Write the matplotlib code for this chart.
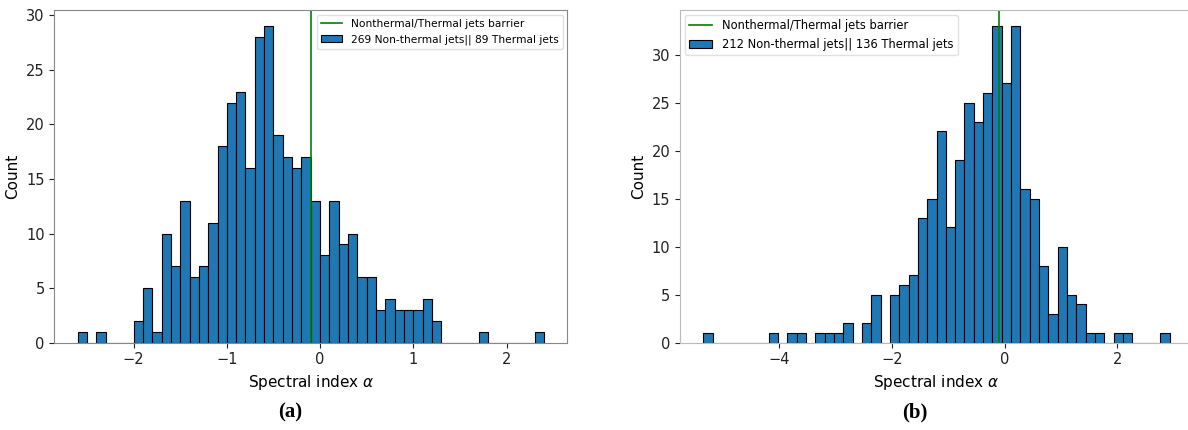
import numpy as np
import matplotlib
matplotlib.use("Agg")
import matplotlib.pyplot as plt

plt.rcParams["mathtext.fontset"] = "dejavusans"

# Panel (a): 50 bins of width 0.1 from -2.6 to 2.4
edges_a_range = (-2.6, 2.4)
counts_a = [1, 0, 1, 0, 0, 0, 2, 5, 1, 10,
            7, 13, 6, 7, 11, 18, 22, 23, 16, 28,
            29, 19, 17, 16, 17, 13, 8, 13, 9, 10,
            6, 6, 3, 4, 3, 3, 3, 4, 2, 0,
            0, 0, 0, 1, 0, 0, 0, 0, 0, 1]
label_a = "269 Non-thermal jets|| 89 Thermal jets"

# Panel (b): 50 bins spanning -5.351 to 2.934
edges_b_range = (-5.351, 2.934)
counts_b = [1, 0, 0, 0, 0, 0, 0, 1, 0, 1,
            1, 0, 1, 1, 1, 2, 0, 2, 5, 0,
            5, 6, 7, 13, 15, 22, 12, 19, 25, 23,
            26, 33, 27, 33, 16, 15, 8, 3, 10, 5,
            4, 1, 1, 0, 1, 1, 0, 0, 0, 1]
label_b = "212 Non-thermal jets|| 136 Thermal jets"

barrier = -0.1
barrier_label = "Nonthermal/Thermal jets barrier"
xlabel = r"Spectral index $\alpha$"
ylabel = "Count"
captions = ["(a)", "(b)"]

fig = plt.figure(figsize=(11.88, 4.30), dpi=100)
ax_a = fig.add_axes([0.0457, 0.203, 0.4318, 0.773])
ax_b = fig.add_axes([0.5724, 0.203, 0.4318, 0.774])


def draw_panel(ax, rng, counts, label, loc, spine_color, legend_size):
    edges = np.linspace(rng[0], rng[1], len(counts) + 1)
    ax.axvline(barrier, color="green", linewidth=1.2, label=barrier_label)
    ax.hist(edges[:-1], bins=edges, weights=counts, color="#1f77b4",
            edgecolor="black", linewidth=0.8, label=label)
    ax.set_xlabel(xlabel, fontsize=11, labelpad=4)
    ax.set_ylabel(ylabel, fontsize=11, labelpad=4)
    ax.tick_params(labelsize=10.5, colors="#222222")
    for s in ax.spines.values():
        s.set_color(spine_color)
    leg = ax.legend(loc=loc, fontsize=legend_size, framealpha=0.9,
                    borderaxespad=0.4, handlelength=2.0)
    leg.get_frame().set_edgecolor("#dddddd")


draw_panel(ax_a, edges_a_range, counts_a, label_a, "upper right", "#888888", 7.7)
draw_panel(ax_b, edges_b_range, counts_b, label_b, "upper left", "#bbbbbb", 8.3)
ax_a.set_xticks([-2, -1, 0, 1, 2])
ax_a.set_yticks([0, 5, 10, 15, 20, 25, 30])
ax_b.set_xticks([-4, -2, 0, 2])
ax_b.set_yticks([0, 5, 10, 15, 20, 25, 30])

cap_kw = dict(ha="center", va="center", fontsize=15, fontweight="bold",
              family=["Liberation Serif", "DejaVu Serif"])
fig.text(290 / 1188, 1 - 412 / 430, captions[0], **cap_kw)
fig.text(915 / 1188, 1 - 412 / 430, captions[1], **cap_kw)

fig.savefig("out.png", dpi=100)
